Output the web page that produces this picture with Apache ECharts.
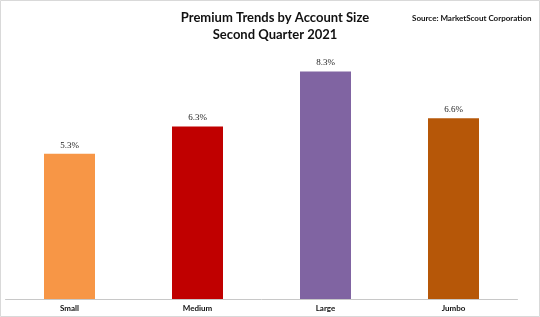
<!DOCTYPE html>
<html><head><meta charset="utf-8">
<script src="https://cdn.jsdelivr.net/npm/echarts@6/dist/echarts.min.js"></script>
<style>html,body{margin:0;padding:0;background:#fff}#c{width:540px;height:317px}</style>
</head><body><div id="c"></div>
<script>
const categories = ['Small', 'Medium', 'Large', 'Jumbo'];
const values = [5.3, 6.3, 8.3, 6.6];
const colors = ['#F79646', '#C00000', '#8064A2', '#B65708'];
const titleLines = ['Premium Trends by Account Size', 'Second Quarter 2021'];
const sourceText = 'Source: MarketScout Corporation';

const chart = echarts.init(document.getElementById('c'), null, {renderer: 'canvas'});
chart.setOption({
  backgroundColor: '#fff',
  animation: false,
  title: [{
    text: titleLines.join('\n'), left: 270, top: 4, textAlign: 'center',
    textStyle: {fontFamily: 'Lato', fontWeight: 'bold', fontSize: 13, lineHeight: 17, color: '#111'}
  }, {
    text: sourceText, left: 407, top: 9,
    textStyle: {fontFamily: 'Lato', fontWeight: 'bold', fontSize: 8, color: '#111'}
  }],
  graphic: [{type: 'rect', shape: {x: 0.5, y: 0.5, width: 539, height: 316}, style: {fill: 'none', stroke: '#d9d9d9', lineWidth: 1}, silent: true}],
  grid: {left: 5.5, right: 22.5, top: 25, bottom: 18},
  xAxis: {
    type: 'category', data: categories,
    axisLine: {lineStyle: {color: '#c8c8c8'}}, axisTick: {show: false},
    axisLabel: {fontFamily: 'Lato', fontWeight: 'bold', fontSize: 8, color: '#111', margin: 5}
  },
  yAxis: {type: 'value', min: 0, max: 10, show: false, splitLine: {show: false}},
  series: [{
    type: 'bar', barWidth: 51,
    data: values.map((v, i) => ({value: v, itemStyle: {color: colors[i]}})),
    label: {
      show: true, position: 'top', distance: 4,
      formatter: p => p.value.toFixed(1) + '%',
      fontFamily: 'Liberation Serif', fontSize: 9, color: '#222'
    }
  }]
});
</script></body></html>
